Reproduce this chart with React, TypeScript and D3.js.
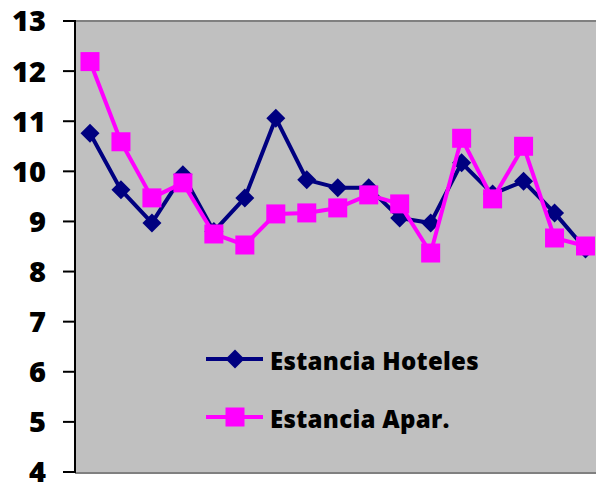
import React from "react";
import * as d3 from "d3";

const categories = d3.range(1, 18).map(String);
const hoteles = [10.76, 9.63, 8.97, 9.93, 8.8, 9.47, 11.06, 9.83, 9.67, 9.67, 9.07, 8.97, 10.17, 9.55, 9.8, 9.17, 8.45];
const apar = [12.19, 10.59, 9.47, 9.77, 8.75, 8.53, 9.15, 9.17, 9.27, 9.53, 9.35, 8.37, 10.66, 9.45, 10.5, 8.67, 8.51];
const yTicks = [4, 5, 6, 7, 8, 9, 10, 11, 12, 13];
const seriesNames = ["Estancia Hoteles", "Estancia Apar."];

const W = 596, H = 487;
const L = 75, R = 601, T = 21, B = 472;
const NAVY = "#000080", MAG = "#FF00FF";

function Diamond({ x, y }: { x: number; y: number }) {
  const r = 9.5;
  return <path d={`M${x},${y - r}L${x + r},${y}L${x},${y + r}L${x - r},${y}Z`} fill={NAVY} />;
}
function Square({ x, y }: { x: number; y: number }) {
  const s = 19;
  return <rect x={x - s / 2} y={y - s / 2} width={s} height={s} fill={MAG} />;
}

export default function App() {
  const x = d3.scaleBand<string>().domain(categories).range([L - 0.5, R]);
  const y = d3.scaleLinear().domain([4, 13]).range([B, T]);
  const cx = (i: number) => (x(categories[i]) as number) + x.bandwidth() / 2;
  const line = d3.line<number>().x((_, i) => cx(i)).y((d) => y(d));
  const font = "'Open Sans', 'Liberation Sans', sans-serif";
  return (
    <div style={{ position: "absolute", left: 0, top: 0 }}>
      <svg width={W} height={H} style={{ display: "block" }}>
        <rect width={W} height={H} fill="#fff" />
        <rect x={L} y={T} width={R - L} height={B - T} fill="#C0C0C0" />
        <line x1={L} x2={R} y1={T} y2={T} stroke="#808080" strokeWidth={2} />
        <line x1={L} x2={R} y1={B + 1} y2={B + 1} stroke="#808080" strokeWidth={2} />
        <line x1={L} x2={L} y1={T - 1} y2={B + 1} stroke="#000" strokeWidth={2} />
        {yTicks.map((t) => (
          <g key={t}>
            <line x1={63} x2={L} y1={y(t)} y2={y(t)} stroke="#000" strokeWidth={2} />
            <text x={46} y={y(t)} dy="0.36em" textAnchor="end" fontFamily={font} fontWeight={800} fontSize={29} fill="#000">
              {t}
            </text>
          </g>
        ))}
        <path d={line(hoteles) as string} fill="none" stroke={NAVY} strokeWidth={4} strokeLinejoin="round" />
        {hoteles.map((v, i) => <Diamond key={i} x={cx(i)} y={y(v)} />)}
        <path d={line(apar) as string} fill="none" stroke={MAG} strokeWidth={4} strokeLinejoin="round" />
        {apar.map((v, i) => <Square key={i} x={cx(i)} y={y(v)} />)}
        <g>
          <line x1={206} x2={263} y1={359} y2={359} stroke={NAVY} strokeWidth={4} />
          <Diamond x={235} y={359} />
          <text x={270} y={370} fontFamily={font} fontWeight={800} fontSize={24} letterSpacing={0.3} fill="#000">
            {seriesNames[0]}
          </text>
          <line x1={206} x2={263} y1={417} y2={417} stroke={MAG} strokeWidth={4} />
          <Square x={235} y={417} />
          <text x={270} y={428} fontFamily={font} fontWeight={800} fontSize={24} letterSpacing={0.3} fill="#000">
            {seriesNames[1]}
          </text>
        </g>
      </svg>
    </div>
  );
}
